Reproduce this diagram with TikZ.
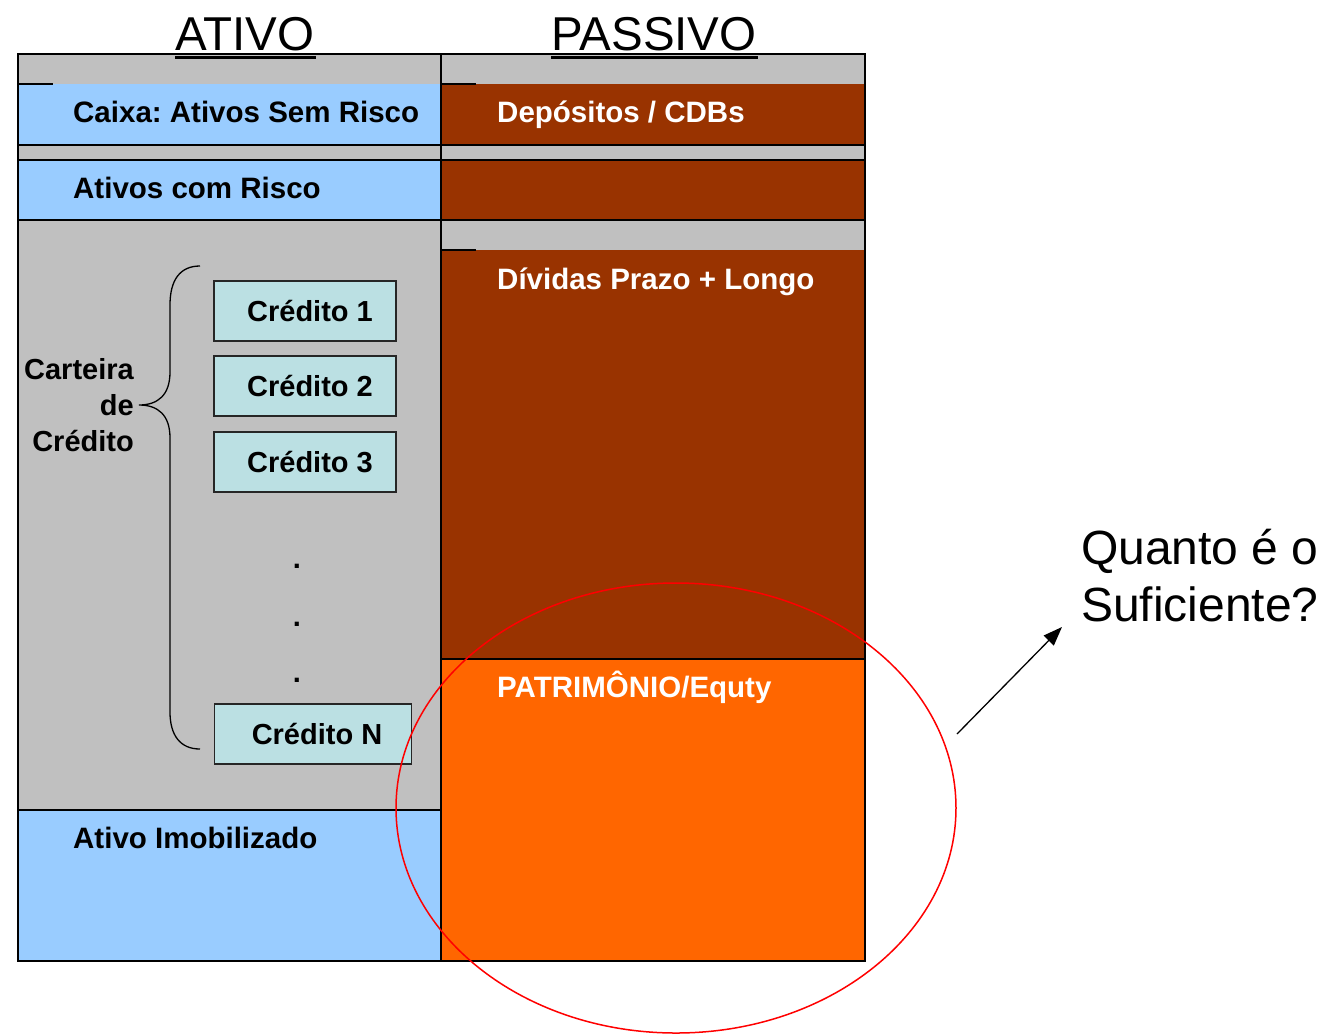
\documentclass[tikz,border=0pt]{standalone}
\usepackage{fontspec}
\setmainfont{Liberation Sans}
\usetikzlibrary{arrows.meta,shapes.geometric}
\definecolor{cgrey}{HTML}{C0C0C0}
\definecolor{cblue}{HTML}{99CCFF}
\definecolor{cbrown}{HTML}{993300}
\definecolor{corange}{HTML}{FF6600}
\definecolor{ccred}{HTML}{BBE0E3}
\frenchspacing
\tikzset{
  panel/.style={draw=black, line width=1.2pt},
  lbl/.style={anchor=base west, inner sep=0pt, font=\fontsize{29.5}{34}\selectfont\bfseries},
  wlbl/.style={lbl, text=white},
  credbox/.style={draw=black!85, line width=1.5pt, fill=ccred, minimum height=60pt, inner sep=0pt, font=\fontsize{29}{34}\selectfont\bfseries},
  title/.style={inner sep=0pt, font=\fontsize{47.5}{56}\selectfont},
  dotlbl/.style={inner sep=0pt, font=\fontsize{29}{34}\selectfont\bfseries}
}
\begin{document}
\begin{tikzpicture}[x=1pt,y=-1pt]
\useasboundingbox (0,0) rectangle (1327,1034);
% column backgrounds
\fill[cgrey] (18,54) rectangle (441,961);
\fill[cgrey] (441,54) rectangle (865,961);
% left panels
\fill[cblue] (18,84) rectangle (441,145);
\draw[panel] (18,145) -- (441,145);
\filldraw[fill=cblue,panel] (18,160) rectangle (441,220);
\filldraw[fill=cblue,panel] (18,810) rectangle (441,961);
% right panels
\fill[cbrown] (441,84) rectangle (865,145);
\draw[panel] (441,145) -- (865,145);
\filldraw[fill=cbrown,panel] (441,160) rectangle (865,220);
\fill[cbrown] (441,250) rectangle (865,659);
\filldraw[fill=corange,panel] (441,659) rectangle (865,961);
% small ticks
\draw[line width=1.2pt] (18,84) -- (53,84);
\draw[line width=1.2pt] (441,84) -- (476,84);
\draw[line width=1.2pt] (441,250) -- (476,250);
% outer frame and divider
\draw[panel] (18,54) rectangle (865,961);
\draw[panel] (441,54) -- (441,961);
% titles
\node[title, anchor=base] (ativo) at (245,50) {ATIVO};
\node[title, anchor=base] (passivo) at (654,50) {PASSIVO};
\draw[line width=3pt] (ativo.base west) ++(0,7) -- ++(141,0);
\draw[line width=3pt] (passivo.base west) ++(0,7) -- ++(207,0);
% labels
\node[lbl] (caixa) at (73,122) {Caixa: Ativos Sem Risco};
\node[lbl] (risco) at (73,198) {Ativos com Risco};
\node[lbl] (imob) at (73,848) {Ativo Imobilizado};
\node[wlbl] (dep) at (497,122) {Depósitos / CDBs};
\node[wlbl] (div) at (497,289) {Dívidas Prazo + Longo};
\node[wlbl] (pat) at (497,697) {PATRIMÔNIO/Equty};
% credit boxes
\node[credbox, minimum width=182pt] (c1) at (305,311) {\hspace{10pt}Crédito 1};
\node[credbox, minimum width=182pt] (c2) at (305,386) {\hspace{10pt}Crédito 2};
\node[credbox, minimum width=182pt] (c3) at (305,462) {\hspace{10pt}Crédito 3};
\node[credbox, minimum width=197pt] (cn) at (313,734) {\hspace{8pt}Crédito N};
\node[dotlbl] (d1) at (297,566) {.};
\node[dotlbl] (d2) at (297,624) {.};
\node[dotlbl] (d3) at (297,680) {.};
% brace
\draw[line width=1.3pt] (200,266) .. controls (180,266) and (170,280) .. (170,305)
  -- (170,372) .. controls (170,395) and (158,405) .. (139,405)
  .. controls (158,405) and (170,415) .. (170,438)
  -- (170,712) .. controls (170,735) and (180,749) .. (200,749);
\node[inner sep=0pt, align=right, anchor=east, font=\fontsize{29}{36}\selectfont\bfseries] (cart) at (134,405) {Carteira\\de\\Crédito};
% ellipse
\node[draw=red, line width=1.5pt, ellipse, minimum width=560pt, minimum height=450pt, inner sep=0pt] (ell) at (676,808) {};
% question
\node[inner sep=0pt, anchor=north west, align=left, font=\fontsize{48}{57}\selectfont] (q) at (1081,529) {Quanto é o\\Suficiente?};
\coordinate (as) at (957,734);
\coordinate (ae) at (1062,627);
\draw[line width=1.3pt, -{Triangle[length=19pt,width=14pt]}] (as) -- (ae);
\end{tikzpicture}
\end{document}
